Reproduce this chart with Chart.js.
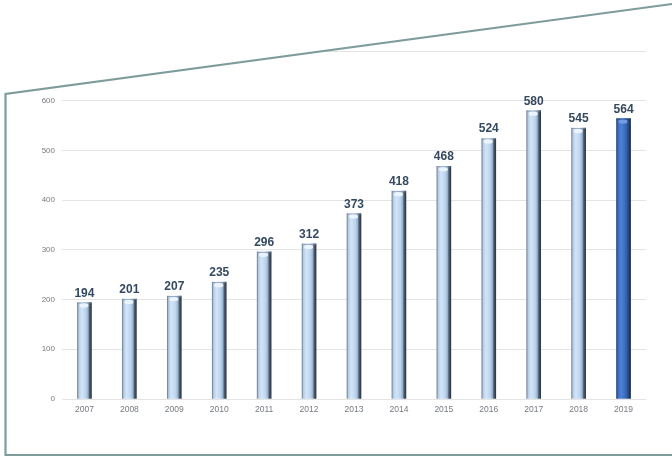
<!DOCTYPE html>
<html>
<head>
<meta charset="utf-8">
<script src="https://cdn.jsdelivr.net/npm/chart.js@4"></script>
<style>
  html, body { margin: 0; padding: 0; background: #ffffff; }
  #wrap { width: 672px; height: 457px; }
</style>
</head>
<body>
<div id="wrap"><canvas id="yearChart" width="672" height="457"></canvas></div>
<script>
// Data
const years = ["2007", "2008", "2009", "2010", "2011", "2012", "2013", "2014", "2015", "2016", "2017", "2018", "2019"];
const counts = [194, 201, 207, 235, 296, 312, 373, 418, 468, 524, 580, 545, 564];
const yTicks = [0, 100, 200, 300, 400, 500, 600];

const frameColor = "#7f9c9d";
const labelFont = "'Liberation Sans Narrow', 'Liberation Sans', Arial, sans-serif";

// Cylinder-like shading across each bar
function barFill(context) {
    const chart = context.chart;
    const last = context.dataIndex === counts.length - 1;
    if (!chart.chartArea) return last ? "#3f72c6" : "#c4dbf3";
    const cx = chart.scales.x.getPixelForValue(context.dataIndex);
    const g = chart.ctx.createLinearGradient(cx - 7, 0, cx + 7, 0);
    if (last) {
        g.addColorStop(0, "#233f70");
        g.addColorStop(0.12, "#3f6fc0");
        g.addColorStop(0.35, "#4c82d8");
        g.addColorStop(0.7, "#3463b0");
        g.addColorStop(0.86, "#24467f");
        g.addColorStop(1, "#162746");
    } else {
        g.addColorStop(0, "#6f8296");
        g.addColorStop(0.1, "#b7cce2");
        g.addColorStop(0.3, "#d2e5f9");
        g.addColorStop(0.6, "#bdd4ee");
        g.addColorStop(0.76, "#98b1cc");
        g.addColorStop(0.86, "#4d5d6f");
        g.addColorStop(1, "#2c3743");
    }
    return g;
}

// Caps on the bars and the value above each one
const barLabels = {
    id: "barLabels",
    afterDatasetsDraw(chart) {
        const ctx = chart.ctx;
        const meta = chart.getDatasetMeta(0);
        ctx.save();
        meta.data.forEach((bar, i) => {
            const half = bar.width / 2;
            const last = i === counts.length - 1;
            // top cap rim and highlight
            ctx.fillStyle = last ? "rgba(40,70,130,0.8)" : "rgba(120,140,165,0.7)";
            ctx.fillRect(bar.x - half, bar.y, bar.width, 1);
            ctx.fillStyle = last ? "rgba(120,160,230,0.9)" : "rgba(236,245,254,0.95)";
            ctx.beginPath();
            ctx.ellipse(bar.x - 0.5, bar.y + 3, half - 2.5, 2.2, 0, 0, Math.PI * 2);
            ctx.fill();
            // value label
            ctx.fillStyle = "#34495f";
            ctx.font = "bold 12px " + labelFont;
            ctx.textAlign = "center";
            ctx.textBaseline = "alphabetic";
            ctx.fillText(String(counts[i]), bar.x, bar.y - 6);
        });
        ctx.restore();
    }
};

// Slanted frame around the plot
const frame = {
    id: "frame",
    afterDraw(chart) {
        const ctx = chart.ctx;
        const w = chart.width, h = chart.height;
        ctx.save();
        ctx.fillStyle = "#ffffff";
        ctx.beginPath();
        ctx.moveTo(0, 0);
        ctx.lineTo(w, 0);
        ctx.lineTo(w, 4);
        ctx.lineTo(5.5, 94);
        ctx.lineTo(0, 94);
        ctx.closePath();
        ctx.fill();
        ctx.strokeStyle = frameColor;
        ctx.lineWidth = 2.2;
        ctx.beginPath();
        ctx.moveTo(w, 4);
        ctx.lineTo(5.5, 94);
        ctx.lineTo(5.5, h - 2);
        ctx.lineTo(w, h - 2);
        ctx.stroke();
        ctx.restore();
    }
};

new Chart(document.getElementById("yearChart"), {
    type: "bar",
    data: {
        labels: years,
        datasets: [{
            data: counts,
            backgroundColor: barFill,
            borderWidth: 0,
            barThickness: 14,
        }],
    },
    options: {
        responsive: false,
        animation: false,
        layout: { padding: { top: 51, right: 26, left: 0, bottom: 0 } },
        plugins: {
            legend: { display: false },
            tooltip: { enabled: false },
        },
        scales: {
            x: {
                grid: { display: false, drawTicks: false },
                border: { display: false },
                ticks: {
                    color: "#757b82",
                    padding: 6,
                    font: { family: labelFont, size: 8.5 },
                },
                afterFit(scale) { scale.height = 58; },
            },
            y: {
                min: 0,
                max: 700,
                grid: { color: "#e4e4e4", lineWidth: 1, drawTicks: false },
                border: { display: false },
                ticks: {
                    stepSize: 100,
                    padding: 7,
                    color: "#757b82",
                    font: { family: labelFont, size: 8 },
                    callback: v => (yTicks.includes(v) ? String(v) : ""),
                },
                afterFit(scale) { scale.width = 62; },
            },
        },
    },
    plugins: [barLabels, frame],
});
</script>
</body>
</html>
